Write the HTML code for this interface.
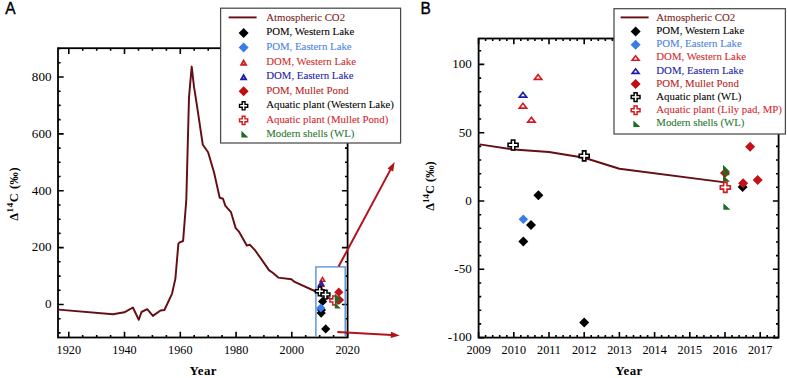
<!DOCTYPE html><html><head><meta charset="utf-8"><style>html,body{margin:0;padding:0;background:#fff;overflow:hidden}svg{display:block}</style></head><body>
<svg width="787" height="378" viewBox="0 0 787 378">
<style>.tl{stroke:none}.lg{stroke-width:0.08px}</style>
<rect width="787" height="378" fill="#fff"/>
<text transform="translate(5.3 14.3) scale(0.92 1)" style="font-family:'Liberation Sans',sans-serif" font-size="16.8" stroke="#000" stroke-width="0.4">A</text>
<text transform="translate(420.6 14.3) scale(0.92 1)" style="font-family:'Liberation Sans',sans-serif" font-size="16.8" stroke="#000" stroke-width="0.4">B</text>
<path d="M68.8 337.5V331.8M68.8 48.2V53.900000000000006M82.7 337.5V334.9M82.7 48.2V50.800000000000004M96.7 337.5V334.9M96.7 48.2V50.800000000000004M110.6 337.5V334.9M110.6 48.2V50.800000000000004M124.5 337.5V331.8M124.5 48.2V53.900000000000006M138.5 337.5V334.9M138.5 48.2V50.800000000000004M152.4 337.5V334.9M152.4 48.2V50.800000000000004M166.4 337.5V334.9M166.4 48.2V50.800000000000004M180.3 337.5V331.8M180.3 48.2V53.900000000000006M194.2 337.5V334.9M194.2 48.2V50.800000000000004M208.2 337.5V334.9M208.2 48.2V50.800000000000004M222.1 337.5V334.9M222.1 48.2V50.800000000000004M236.1 337.5V331.8M236.1 48.2V53.900000000000006M250.0 337.5V334.9M250.0 48.2V50.800000000000004M263.9 337.5V334.9M263.9 48.2V50.800000000000004M277.9 337.5V334.9M277.9 48.2V50.800000000000004M291.8 337.5V331.8M291.8 48.2V53.900000000000006M305.7 337.5V334.9M305.7 48.2V50.800000000000004M319.7 337.5V334.9M319.7 48.2V50.800000000000004M333.6 337.5V334.9M333.6 48.2V50.800000000000004M347.6 337.5V331.8M347.6 48.2V53.900000000000006M58.0 332.9H60.6M347.6 332.9H345.0M58.0 318.7H60.6M347.6 318.7H345.0M58.0 304.5H63.7M347.6 304.5H341.90000000000003M58.0 290.3H60.6M347.6 290.3H345.0M58.0 276.1H60.6M347.6 276.1H345.0M58.0 261.8H60.6M347.6 261.8H345.0M58.0 247.6H63.7M347.6 247.6H341.90000000000003M58.0 233.4H60.6M347.6 233.4H345.0M58.0 219.2H60.6M347.6 219.2H345.0M58.0 205.0H60.6M347.6 205.0H345.0M58.0 190.7H63.7M347.6 190.7H341.90000000000003M58.0 176.5H60.6M347.6 176.5H345.0M58.0 162.3H60.6M347.6 162.3H345.0M58.0 148.1H60.6M347.6 148.1H345.0M58.0 133.9H63.7M347.6 133.9H341.90000000000003M58.0 119.6H60.6M347.6 119.6H345.0M58.0 105.4H60.6M347.6 105.4H345.0M58.0 91.2H60.6M347.6 91.2H345.0M58.0 77.0H63.7M347.6 77.0H341.90000000000003M58.0 62.8H60.6M347.6 62.8H345.0M58.0 48.5H60.6M347.6 48.5H345.0" stroke="#000" stroke-width="1.6" fill="none"/>
<rect x="58.0" y="48.2" width="289.6" height="289.3" fill="none" stroke="#000" stroke-width="1.8"/>
<text x="51.5" y="308.3" text-anchor="end" class="tl" style="font-family:'Liberation Serif',serif" font-size="13.1">0</text>
<text x="51.5" y="251.4" text-anchor="end" class="tl" style="font-family:'Liberation Serif',serif" font-size="13.1">200</text>
<text x="51.5" y="194.5" text-anchor="end" class="tl" style="font-family:'Liberation Serif',serif" font-size="13.1">400</text>
<text x="51.5" y="137.7" text-anchor="end" class="tl" style="font-family:'Liberation Serif',serif" font-size="13.1">600</text>
<text x="51.5" y="80.8" text-anchor="end" class="tl" style="font-family:'Liberation Serif',serif" font-size="13.1">800</text>
<text x="68.8" y="353.8" text-anchor="middle" class="tl" style="font-family:'Liberation Serif',serif" font-size="12.2">1920</text>
<text x="124.5" y="353.8" text-anchor="middle" class="tl" style="font-family:'Liberation Serif',serif" font-size="12.2">1940</text>
<text x="180.3" y="353.8" text-anchor="middle" class="tl" style="font-family:'Liberation Serif',serif" font-size="12.2">1960</text>
<text x="236.1" y="353.8" text-anchor="middle" class="tl" style="font-family:'Liberation Serif',serif" font-size="12.2">1980</text>
<text x="291.8" y="353.8" text-anchor="middle" class="tl" style="font-family:'Liberation Serif',serif" font-size="12.2">2000</text>
<text x="347.6" y="353.8" text-anchor="middle" class="tl" style="font-family:'Liberation Serif',serif" font-size="12.2">2020</text>
<text x="203.2" y="375.2" text-anchor="middle" style="font-family:'Liberation Serif',serif" font-size="12.9" font-weight="bold" letter-spacing="0.4">Year</text>
<text transform="translate(18.0 193.8) rotate(-90)" text-anchor="middle" style="font-family:'Liberation Serif',serif" font-size="12.3" font-weight="bold" letter-spacing="0.6">Δ<tspan font-size="9" dy="-5">14</tspan><tspan dy="5">C (‰)</tspan></text>
<path d="M58.6 309.6L112.9 314.2L124.3 312.3L132.9 307.5L138.8 319.8L141.5 312.0L147.2 309.2L152.9 315.9L160.5 310.5L164.4 310.0L172.0 293.8L175.4 278.6L178.4 243.6L179.8 242.3L183.1 241.0L186.3 200.0L189.0 97.3L191.7 66.6L194.0 86.7L197.0 105.8L202.8 144.8L208.1 152.2L214.0 172.3L219.7 197.7L223.0 198.7L225.4 205.9L231.0 212.2L235.7 228.1L238.9 231.6L246.8 245.6L250.0 244.8L255.4 250.7L269.2 270.4L272.4 272.5L278.3 277.6L291.4 279.3L294.6 281.9L316.9 292.0L325.2 295.5L328.0 297.8L336.4 300.6" fill="none" stroke="#660e13" stroke-width="1.95" stroke-linejoin="round"/>
<path d="M315.9 336.6V266.8H345.2V336.6" fill="none" stroke="#4a86d8" stroke-width="1.3"/>
<path d="M321.00 285.10L324.60 290.90L317.40 290.90ZM321.00 287.94L321.90 289.40L320.10 289.40Z" fill="#d21a1f" fill-rule="evenodd"/><path d="M321.50 281.10L325.10 286.90L317.90 286.90ZM321.50 283.94L322.40 285.40L320.60 285.40Z" fill="#d21a1f" fill-rule="evenodd"/><path d="M322.50 276.10L326.10 281.90L318.90 281.90ZM322.50 278.94L323.40 280.40L321.60 280.40Z" fill="#d21a1f" fill-rule="evenodd"/><path d="M321.2 279.6L325.0 286.2L317.4 286.2Z" fill="#3c1c9c"/><path d="M322.6 296.8L327.2 301.4L322.6 306.0L318.0 301.4Z" fill="#000"/><path d="M321.4 305.4L326.0 310.0L321.4 314.6L316.8 310.0Z" fill="#000"/><path d="M321.2 308.5L325.8 313.1L321.2 317.7L316.6 313.1Z" fill="#000"/><path d="M320.8 303.4L325.4 308.0L320.8 312.6L316.2 308.0Z" fill="#3b7de8"/><path d="M325.7 324.3L330.3 328.9L325.7 333.5L321.1 328.9Z" fill="#000"/><path d="M318.3 286.9L321.3 286.9L321.3 289.8L324.2 289.8L324.2 292.8L321.3 292.8L321.3 295.7L318.3 295.7L318.3 292.8L315.4 292.8L315.4 289.8L318.3 289.8Z" fill="#fff" stroke="#000" stroke-width="1.5"/><path d="M324.0 290.2L327.0 290.2L327.0 293.1L329.9 293.1L329.9 296.1L327.0 296.1L327.0 299.0L324.0 299.0L324.0 296.1L321.1 296.1L321.1 293.1L324.0 293.1Z" fill="#fff" stroke="#000" stroke-width="1.5"/><path d="M338.8 287.6L343.4 292.2L338.8 296.8L334.2 292.2Z" fill="#c41018"/><path d="M338.0 295.9L342.6 300.5L338.0 305.1L333.4 300.5Z" fill="#c41018"/><path d="M339.5 295.4L344.1 300.0L339.5 304.6L334.9 300.0Z" fill="#c41018"/><path d="M332.8 296.1L335.8 296.1L335.8 299.0L338.7 299.0L338.7 302.0L335.8 302.0L335.8 304.9L332.8 304.9L332.8 302.0L329.9 302.0L329.9 299.0L332.8 299.0Z" fill="#fff" stroke="#d21a1f" stroke-width="1.5"/><path d="M334.8 293.5L334.8 299.5L340.8 299.5Z" fill="#1f6b23"/><path d="M334.8 296.5L334.8 302.5L340.8 302.5Z" fill="#1f6b23"/><path d="M334.8 302.6L334.8 308.6L340.8 308.6Z" fill="#1f6b23"/>
<path d="M338.6 266.5L390.8 169.1" stroke="#b3121a" stroke-width="2.0" fill="none"/><path d="M394.6 162.0L393.2 171.4L387.5 168.4Z" fill="#b3121a"/>
<path d="M337.4 332.0L391.8 335.0" stroke="#b3121a" stroke-width="2.0" fill="none"/><path d="M399.8 335.4L390.6 338.1L391.0 331.7Z" fill="#b3121a"/>
<path d="M478.6 337.6V331.90000000000003M478.6 38.5V44.2M485.6 337.6V335.0M485.6 38.5V41.1M492.7 337.6V335.0M492.7 38.5V41.1M499.7 337.6V335.0M499.7 38.5V41.1M506.8 337.6V335.0M506.8 38.5V41.1M513.8 337.6V331.90000000000003M513.8 38.5V44.2M520.8 337.6V335.0M520.8 38.5V41.1M527.9 337.6V335.0M527.9 38.5V41.1M534.9 337.6V335.0M534.9 38.5V41.1M542.0 337.6V335.0M542.0 38.5V41.1M549.0 337.6V331.90000000000003M549.0 38.5V44.2M556.0 337.6V335.0M556.0 38.5V41.1M563.1 337.6V335.0M563.1 38.5V41.1M570.1 337.6V335.0M570.1 38.5V41.1M577.2 337.6V335.0M577.2 38.5V41.1M584.2 337.6V331.90000000000003M584.2 38.5V44.2M591.2 337.6V335.0M591.2 38.5V41.1M598.3 337.6V335.0M598.3 38.5V41.1M605.3 337.6V335.0M605.3 38.5V41.1M612.4 337.6V335.0M612.4 38.5V41.1M619.4 337.6V331.90000000000003M619.4 38.5V44.2M626.4 337.6V335.0M626.4 38.5V41.1M633.5 337.6V335.0M633.5 38.5V41.1M640.5 337.6V335.0M640.5 38.5V41.1M647.6 337.6V335.0M647.6 38.5V41.1M654.6 337.6V331.90000000000003M654.6 38.5V44.2M661.6 337.6V335.0M661.6 38.5V41.1M668.7 337.6V335.0M668.7 38.5V41.1M675.7 337.6V335.0M675.7 38.5V41.1M682.8 337.6V335.0M682.8 38.5V41.1M689.8 337.6V331.90000000000003M689.8 38.5V44.2M696.8 337.6V335.0M696.8 38.5V41.1M703.9 337.6V335.0M703.9 38.5V41.1M710.9 337.6V335.0M710.9 38.5V41.1M718.0 337.6V335.0M718.0 38.5V41.1M725.0 337.6V331.90000000000003M725.0 38.5V44.2M732.0 337.6V335.0M732.0 38.5V41.1M739.1 337.6V335.0M739.1 38.5V41.1M746.1 337.6V335.0M746.1 38.5V41.1M753.2 337.6V335.0M753.2 38.5V41.1M760.2 337.6V331.90000000000003M760.2 38.5V44.2M767.2 337.6V335.0M767.2 38.5V41.1M774.3 337.6V335.0M774.3 38.5V41.1M478.6 337.6H484.3M778.6 337.6H772.9M478.6 323.9H481.20000000000005M778.6 323.9H776.0M478.6 310.3H481.20000000000005M778.6 310.3H776.0M478.6 296.6H481.20000000000005M778.6 296.6H776.0M478.6 283.0H481.20000000000005M778.6 283.0H776.0M478.6 269.3H484.3M778.6 269.3H772.9M478.6 255.6H481.20000000000005M778.6 255.6H776.0M478.6 242.0H481.20000000000005M778.6 242.0H776.0M478.6 228.3H481.20000000000005M778.6 228.3H776.0M478.6 214.7H481.20000000000005M778.6 214.7H776.0M478.6 201.0H484.3M778.6 201.0H772.9M478.6 187.3H481.20000000000005M778.6 187.3H776.0M478.6 173.7H481.20000000000005M778.6 173.7H776.0M478.6 160.0H481.20000000000005M778.6 160.0H776.0M478.6 146.4H481.20000000000005M778.6 146.4H776.0M478.6 132.7H484.3M778.6 132.7H772.9M478.6 119.0H481.20000000000005M778.6 119.0H776.0M478.6 105.4H481.20000000000005M778.6 105.4H776.0M478.6 91.7H481.20000000000005M778.6 91.7H776.0M478.6 78.1H481.20000000000005M778.6 78.1H776.0M478.6 64.4H484.3M778.6 64.4H772.9M478.6 50.7H481.20000000000005M778.6 50.7H776.0" stroke="#000" stroke-width="1.6" fill="none"/>
<rect x="478.6" y="38.5" width="300.0" height="299.1" fill="none" stroke="#000" stroke-width="1.8"/>
<text x="471.8" y="341.4" text-anchor="end" class="tl" style="font-family:'Liberation Serif',serif" font-size="13.1">-100</text>
<text x="471.8" y="273.1" text-anchor="end" class="tl" style="font-family:'Liberation Serif',serif" font-size="13.1">-50</text>
<text x="471.8" y="204.8" text-anchor="end" class="tl" style="font-family:'Liberation Serif',serif" font-size="13.1">0</text>
<text x="471.8" y="136.5" text-anchor="end" class="tl" style="font-family:'Liberation Serif',serif" font-size="13.1">50</text>
<text x="471.8" y="68.2" text-anchor="end" class="tl" style="font-family:'Liberation Serif',serif" font-size="13.1">100</text>
<text x="478.6" y="353.8" text-anchor="middle" class="tl" style="font-family:'Liberation Serif',serif" font-size="12.2">2009</text>
<text x="513.8" y="353.8" text-anchor="middle" class="tl" style="font-family:'Liberation Serif',serif" font-size="12.2">2010</text>
<text x="549.0" y="353.8" text-anchor="middle" class="tl" style="font-family:'Liberation Serif',serif" font-size="12.2">2011</text>
<text x="584.2" y="353.8" text-anchor="middle" class="tl" style="font-family:'Liberation Serif',serif" font-size="12.2">2012</text>
<text x="619.4" y="353.8" text-anchor="middle" class="tl" style="font-family:'Liberation Serif',serif" font-size="12.2">2013</text>
<text x="654.6" y="353.8" text-anchor="middle" class="tl" style="font-family:'Liberation Serif',serif" font-size="12.2">2014</text>
<text x="689.8" y="353.8" text-anchor="middle" class="tl" style="font-family:'Liberation Serif',serif" font-size="12.2">2015</text>
<text x="725.0" y="353.8" text-anchor="middle" class="tl" style="font-family:'Liberation Serif',serif" font-size="12.2">2016</text>
<text x="760.2" y="353.8" text-anchor="middle" class="tl" style="font-family:'Liberation Serif',serif" font-size="12.2">2017</text>
<text x="629" y="375.2" text-anchor="middle" style="font-family:'Liberation Serif',serif" font-size="12.9" font-weight="bold" letter-spacing="0.4">Year</text>
<text transform="translate(434.1 186.0) rotate(-90)" text-anchor="middle" style="font-family:'Liberation Serif',serif" font-size="12.4" font-weight="bold">Δ<tspan font-size="9" dy="-5">14</tspan><tspan dy="5">C (‰)</tspan></text>
<path d="M479.6 144.4L513.8 149.5L549.0 152.0L584.2 157.8L619.4 168.8L725.0 182.4" fill="none" stroke="#660e13" stroke-width="1.95" stroke-linejoin="round"/>
<path d="M538.09 73.19L543.49 80.19L532.69 80.19ZM538.09 75.90L540.13 78.54L536.04 78.54Z" fill="#d21a1f" fill-rule="evenodd"/><path d="M522.95 101.88L528.35 108.88L517.55 108.88ZM522.95 104.58L525.00 107.23L520.91 107.23Z" fill="#d21a1f" fill-rule="evenodd"/><path d="M531.40 115.95L536.80 122.95L526.00 122.95ZM531.40 118.65L533.44 121.30L529.36 121.30Z" fill="#d21a1f" fill-rule="evenodd"/><path d="M522.95 90.95L528.35 97.95L517.55 97.95ZM522.95 93.65L525.00 96.30L520.91 96.30Z" fill="#1c1cae" fill-rule="evenodd"/><path d="M538.4 190.3L543.4 195.3L538.4 200.3L533.4 195.3Z" fill="#000"/><path d="M523.3 214.4L528.1 219.2L523.3 223.9L518.6 219.2Z" fill="#3b7de8"/><path d="M531.0 220.0L536.0 225.0L531.0 230.0L526.0 225.0Z" fill="#000"/><path d="M523.3 236.6L528.3 241.6L523.3 246.6L518.3 241.6Z" fill="#000"/><path d="M584.2 317.6L589.2 322.6L584.2 327.6L579.2 322.6Z" fill="#000"/><path d="M511.4 140.0L514.8 140.0L514.8 143.3L518.1 143.3L518.1 146.7L514.8 146.7L514.8 150.0L511.4 150.0L511.4 146.7L508.1 146.7L508.1 143.3L511.4 143.3Z" fill="#fff" stroke="#000" stroke-width="1.6"/><path d="M582.5 150.9L585.9 150.9L585.9 154.2L589.2 154.2L589.2 157.6L585.9 157.6L585.9 160.9L582.5 160.9L582.5 157.6L579.2 157.6L579.2 154.2L582.5 154.2Z" fill="#fff" stroke="#000" stroke-width="1.6"/><path d="M742.6 182.1L747.6 187.1L742.6 192.1L737.6 187.1Z" fill="#000"/><path d="M743.1 178.3L748.1 183.3L743.1 188.3L738.1 183.3Z" fill="#c41018"/><path d="M750.1 141.8L755.1 146.8L750.1 151.8L745.1 146.8Z" fill="#c41018"/><path d="M757.7 175.0L762.7 180.0L757.7 185.0L752.7 180.0Z" fill="#c41018"/><path d="M725.0 167.9L730.0 172.9L725.0 177.9L720.0 172.9Z" fill="#c41018"/><path d="M723.0 164.8L723.0 171.8L730.0 171.8Z" fill="#1f6b23"/><path d="M723.0 168.8L723.0 175.2L730.0 175.2Z" fill="#1f6b23"/><path d="M723.0 175.2L723.0 181.8L730.0 181.8Z" fill="#1f6b23"/><path d="M723.6 182.4L727.0 182.4L727.0 185.7L730.3 185.7L730.3 189.1L727.0 189.1L727.0 192.4L723.6 192.4L723.6 189.1L720.3 189.1L720.3 185.7L723.6 185.7Z" fill="#fff" stroke="#d21a1f" stroke-width="1.6"/><path d="M723.4 203.3L723.4 209.8L730.4 209.8Z" fill="#1f6b23"/>
<rect x="220.6" y="8.2" width="180.0" height="134.8" fill="#fff" stroke="#4a4a4a" stroke-width="1.25"/><path d="M228.6 17.4H256.6" stroke="#660e13" stroke-width="1.9"/><text x="266.2" y="20.8" fill="#7a1c22" stroke="#7a1c22" class="lg" style="font-family:'Liberation Serif',serif" font-size="10.8">Atmospheric CO2</text><path d="M243.6 28.1L248.6 33.1L243.6 38.1L238.6 33.1Z" fill="#000"/><text x="266.2" y="35.4" fill="#000" stroke="#000" class="lg" style="font-family:'Liberation Serif',serif" font-size="10.8">POM, Western Lake</text><path d="M243.6 42.6L248.6 47.6L243.6 52.6L238.6 47.6Z" fill="#3b7de8"/><text x="266.2" y="49.9" fill="#4a7fe0" stroke="#4a7fe0" class="lg" style="font-family:'Liberation Serif',serif" font-size="10.8">POM, Eastern Lake</text><path d="M243.60 58.65L247.60 65.65L239.60 65.65ZM243.60 62.48L244.33 63.75L242.87 63.75Z" fill="#d21a1f" fill-rule="evenodd"/><text x="266.2" y="64.5" fill="#d22a2c" stroke="#d22a2c" class="lg" style="font-family:'Liberation Serif',serif" font-size="10.8">DOM, Western Lake</text><path d="M243.60 73.20L247.60 80.20L239.60 80.20ZM243.60 77.03L244.33 78.30L242.87 78.30Z" fill="#1c1cae" fill-rule="evenodd"/><text x="266.2" y="79.0" fill="#2020a6" stroke="#2020a6" class="lg" style="font-family:'Liberation Serif',serif" font-size="10.8">DOM, Eastern Lake</text><path d="M243.6 86.2L248.6 91.2L243.6 96.2L238.6 91.2Z" fill="#c00d14"/><text x="266.2" y="93.5" fill="#b81c22" stroke="#b81c22" class="lg" style="font-family:'Liberation Serif',serif" font-size="10.8">POM, Mullet Pond</text><path d="M242.2 101.7L245.0 101.7L245.0 104.4L247.7 104.4L247.7 107.3L245.0 107.3L245.0 109.9L242.2 109.9L242.2 107.3L239.5 107.3L239.5 104.4L242.2 104.4Z" fill="#fff" stroke="#000" stroke-width="1.4"/><text x="266.2" y="108.1" fill="#000" stroke="#000" class="lg" style="font-family:'Liberation Serif',serif" font-size="10.8">Aquatic plant (Western Lake)</text><path d="M242.2 116.3L245.0 116.3L245.0 118.9L247.7 118.9L247.7 121.8L245.0 121.8L245.0 124.5L242.2 124.5L242.2 121.8L239.5 121.8L239.5 118.9L242.2 118.9Z" fill="#fff" stroke="#d21a1f" stroke-width="1.4"/><text x="266.2" y="122.7" fill="#d4242c" stroke="#d4242c" class="lg" style="font-family:'Liberation Serif',serif" font-size="10.8">Aquatic plant (Mullet Pond)</text><path d="M241.4 130.8L241.4 137.4L248.4 137.4Z" fill="#1f6b23"/><text x="266.2" y="137.2" fill="#267530" stroke="#267530" class="lg" style="font-family:'Liberation Serif',serif" font-size="10.8">Modern shells (WL)</text>
<rect x="614.0" y="8.7" width="171.4" height="125.3" fill="#fff" stroke="#4a4a4a" stroke-width="1.25"/><path d="M620.6 17.4H648.6" stroke="#660e13" stroke-width="1.9"/><text x="656.3" y="21.1" fill="#7a1c22" stroke="#7a1c22" class="lg" style="font-family:'Liberation Serif',serif" font-size="10.8">Atmospheric CO2</text><path d="M635.6 26.6L640.6 31.6L635.6 36.6L630.6 31.6Z" fill="#000"/><text x="656.3" y="34.2" fill="#000" stroke="#000" class="lg" style="font-family:'Liberation Serif',serif" font-size="10.8">POM, Western Lake</text><path d="M635.6 39.7L640.6 44.7L635.6 49.7L630.6 44.7Z" fill="#3b7de8"/><text x="656.3" y="47.3" fill="#4a7fe0" stroke="#4a7fe0" class="lg" style="font-family:'Liberation Serif',serif" font-size="10.8">POM, Eastern Lake</text><path d="M635.60 54.50L640.70 61.10L630.50 61.10ZM635.60 57.12L637.44 59.50L633.76 59.50Z" fill="#d21a1f" fill-rule="evenodd"/><text x="656.3" y="60.4" fill="#d22a2c" stroke="#d22a2c" class="lg" style="font-family:'Liberation Serif',serif" font-size="10.8">DOM, Western Lake</text><path d="M635.60 67.60L640.70 74.20L630.50 74.20ZM635.60 70.22L637.44 72.60L633.76 72.60Z" fill="#1c1cae" fill-rule="evenodd"/><text x="656.3" y="73.5" fill="#2020a6" stroke="#2020a6" class="lg" style="font-family:'Liberation Serif',serif" font-size="10.8">DOM, Eastern Lake</text><path d="M635.6 79.0L640.6 84.0L635.6 89.0L630.6 84.0Z" fill="#c00d14"/><text x="656.3" y="86.6" fill="#b81c22" stroke="#b81c22" class="lg" style="font-family:'Liberation Serif',serif" font-size="10.8">POM, Mullet Pond</text><path d="M634.1 92.8L637.1 92.8L637.1 95.6L640.0 95.6L640.0 98.6L637.1 98.6L637.1 101.4L634.1 101.4L634.1 98.6L631.2 98.6L631.2 95.6L634.1 95.6Z" fill="#fff" stroke="#000" stroke-width="1.5"/><text x="656.3" y="99.7" fill="#000" stroke="#000" class="lg" style="font-family:'Liberation Serif',serif" font-size="10.8">Aquatic plant (WL)</text><path d="M634.1 105.9L637.1 105.9L637.1 108.7L640.0 108.7L640.0 111.7L637.1 111.7L637.1 114.6L634.1 114.6L634.1 111.7L631.2 111.7L631.2 108.7L634.1 108.7Z" fill="#fff" stroke="#d21a1f" stroke-width="1.5"/><text x="656.3" y="112.8" fill="#d4242c" stroke="#d4242c" class="lg" style="font-family:'Liberation Serif',serif" font-size="10.8">Aquatic plant (Lily pad, MP)</text><path d="M633.4 120.5L633.4 127.1L640.4 127.1Z" fill="#1f6b23"/><text x="656.3" y="125.9" fill="#267530" stroke="#267530" class="lg" style="font-family:'Liberation Serif',serif" font-size="10.8">Modern shells (WL)</text>
</svg></body></html>
